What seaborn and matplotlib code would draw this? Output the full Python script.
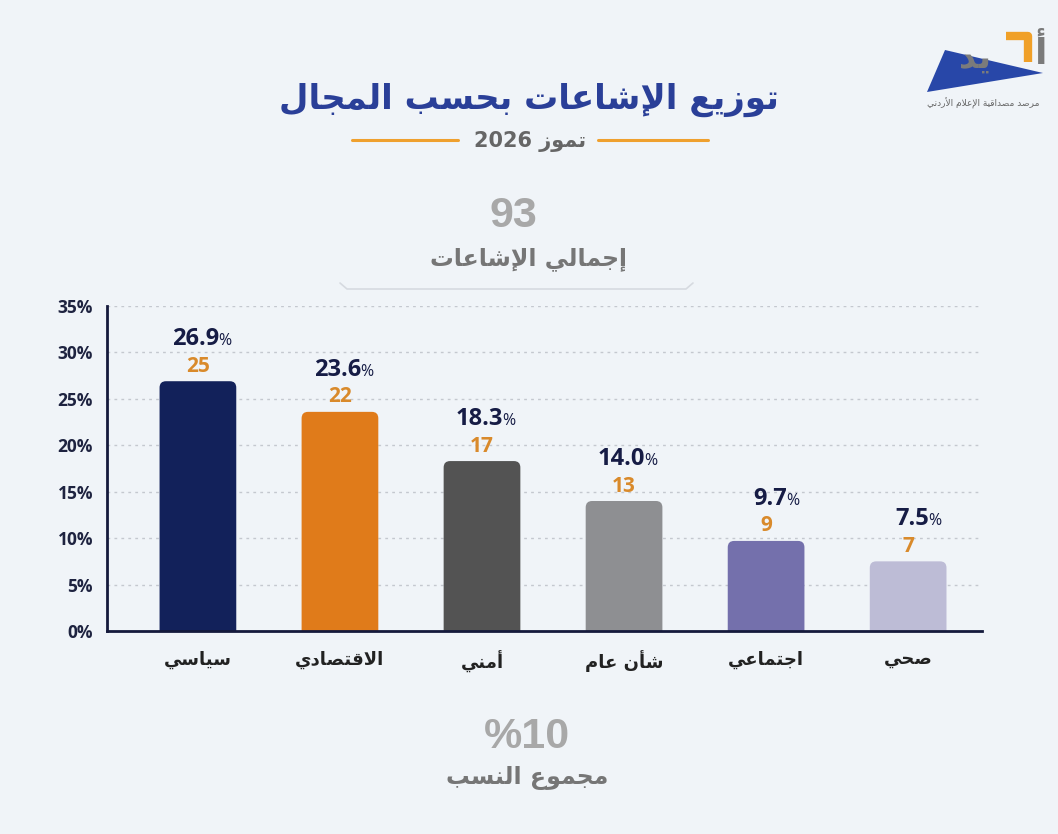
import re
import pandas as pd
import matplotlib
matplotlib.use('Agg')
import matplotlib.pyplot as plt
import seaborn as sns
from matplotlib.patches import FancyBboxPatch, Polygon
from matplotlib.lines import Line2D
from matplotlib.transforms import offset_copy

# data
categories = ['سياسي', 'الاقتصادي', 'أمني', 'شأن عام', 'اجتماعي', 'صحي']
counts = [25, 22, 17, 13, 9, 7]
percents = [26.9, 23.6, 18.3, 14.0, 9.7, 7.5]
bar_colors = ['#12215A', '#E07B1A', '#535353', '#8E8F92', '#7470AC', '#BDBCD6']
y_ticks = [0, 5, 10, 15, 20, 25, 30, 35]

title = 'توزيع الإشاعات بحسب المجال'
subtitle = 'تموز 2026'
total_value = '93'
total_label = 'إجمالي الإشاعات'
sum_value = '%10'
sum_label = 'مجموع النسب'
logo_caption = 'مرصد مصداقية الإعلام الأردني'

# --- minimal Arabic shaping (matplotlib has no shaping / bidi) ---
AR_FORMS = {
    '\u0621': (0xFE80, 1), '\u0622': (0xFE81, 2), '\u0623': (0xFE83, 2), '\u0624': (0xFE85, 2),
    '\u0625': (0xFE87, 2), '\u0626': (0xFE89, 4), '\u0627': (0xFE8D, 2), '\u0628': (0xFE8F, 4),
    '\u0629': (0xFE93, 2), '\u062A': (0xFE95, 4), '\u062B': (0xFE99, 4), '\u062C': (0xFE9D, 4),
    '\u062D': (0xFEA1, 4), '\u062E': (0xFEA5, 4), '\u062F': (0xFEA9, 2), '\u0630': (0xFEAB, 2),
    '\u0631': (0xFEAD, 2), '\u0632': (0xFEAF, 2), '\u0633': (0xFEB1, 4), '\u0634': (0xFEB5, 4),
    '\u0635': (0xFEB9, 4), '\u0636': (0xFEBD, 4), '\u0637': (0xFEC1, 4), '\u0638': (0xFEC5, 4),
    '\u0639': (0xFEC9, 4), '\u063A': (0xFECD, 4), '\u0641': (0xFED1, 4), '\u0642': (0xFED5, 4),
    '\u0643': (0xFED9, 4), '\u0644': (0xFEDD, 4), '\u0645': (0xFEE1, 4), '\u0646': (0xFEE5, 4),
    '\u0647': (0xFEE9, 4), '\u0648': (0xFEED, 2), '\u0649': (0xFEEF, 2), '\u064A': (0xFEF1, 4),
}
LAM_ALEF = {'\u0622': 0xFEF5, '\u0623': 0xFEF7, '\u0625': 0xFEF9, '\u0627': 0xFEFB}


def ar(s):
    toks = []
    i = 0
    while i < len(s):
        if s[i] == '\u0644' and i + 1 < len(s) and s[i + 1] in LAM_ALEF:
            toks.append(('lig', s[i + 1]))
            i += 2
        else:
            toks.append(('ch', s[i]))
            i += 1

    def nf(t):
        if t[0] == 'lig':
            return 2
        return AR_FORMS.get(t[1], (0, 0))[1]

    out = []
    for k, t in enumerate(toks):
        n = nf(t)
        if n == 0:
            out.append(t[1])
            continue
        jp = k > 0 and nf(toks[k - 1]) == 4
        jn = n == 4 and k + 1 < len(toks) and nf(toks[k + 1]) >= 2
        if t[0] == 'lig':
            out.append(chr(LAM_ALEF[t[1]] + (1 if jp else 0)))
            continue
        base = AR_FORMS[t[1]][0]
        if n == 1:
            idx = 0
        elif jp and jn:
            idx = 3
        elif jn:
            idx = 2
        elif jp:
            idx = 1
        else:
            idx = 0
        out.append(chr(base + idx))
    runs = re.findall(r'[0-9A-Za-z.%]+|.', ''.join(out))
    return ''.join(runs[::-1])


W, H = 1058, 834
BG = '#F0F4F8'
AR_FONT = ['DejaVu Sans']
NUM_FONT = ['Open Sans', 'DejaVu Sans']
BIG_FONT = ['Liberation Sans', 'DejaVu Sans']

sns.set_theme(style='white')
plt.rcParams['font.family'] = ['Open Sans', 'DejaVu Sans']

fig = plt.figure(figsize=(W / 100, H / 100), dpi=100)
fig.patch.set_facecolor(BG)


def fx(x, y):
    return x / W, 1 - y / H


# header
fig.text(*fx(529, 100), ar(title), ha='center', va='center', fontsize=24.5,
         fontweight='bold', color='#2A3F98', family=AR_FONT)
fig.text(*fx(530, 141), ar(subtitle), ha='center', va='center', fontsize=15,
         fontweight='bold', color='#666666', family=AR_FONT)
for x0, x1 in [(352, 458), (598, 708)]:
    fig.add_artist(Line2D([x0 / W, x1 / W], [1 - 140 / H] * 2, color='#EFA02E', lw=2.2))

fig.text(*fx(513, 216), total_value, ha='center', va='center', fontsize=31,
         fontweight='bold', color='#A8A8A8', family=BIG_FONT)
fig.text(*fx(529, 259), ar(total_label), ha='center', va='center', fontsize=17,
         fontweight='bold', color='#767676', family=AR_FONT)
card_x = [340, 347, 686, 693]
card_y = [283, 289, 289, 283]
fig.add_artist(Line2D([x / W for x in card_x], [1 - y / H for y in card_y],
                      color='#D6DAE0', lw=1.2))

# logo: blue wedge, gray letters, orange hook
fig.add_artist(Polygon([fx(927, 92), fx(945, 50), fx(1043, 73)], closed=True,
                       facecolor='#2847A8', edgecolor='none'))
fig.text(*fx(975, 58), ar('يد'), ha='center', va='center', fontsize=24,
         fontweight='bold', color='#7B7B7B', family=AR_FONT)
fig.text(*fx(1040, 53), ar('أ'), ha='center', va='center', fontsize=26,
         fontweight='bold', color='#7B7B7B', family=AR_FONT)
hook = [fx(1006, 36), fx(1028, 36), fx(1028, 62)]
fig.add_artist(Line2D([p[0] for p in hook], [p[1] for p in hook], color='#F0A028',
                      lw=6, solid_joinstyle='round', solid_capstyle='butt'))
fig.text(*fx(983, 103), ar(logo_caption), ha='center', va='center', fontsize=6.5,
         color='#666666', family=AR_FONT)

# footer
fig.text(*fx(527, 737), sum_value, ha='center', va='center', fontsize=31,
         fontweight='bold', color='#A8A8A8', family=BIG_FONT)
fig.text(*fx(527, 778), ar(sum_label), ha='center', va='center', fontsize=17,
         fontweight='bold', color='#767676', family=AR_FONT)

# bar chart
ax = fig.add_axes([107 / W, 1 - 631 / H, (982 - 107) / W, (631 - 306) / H])
ax.set_facecolor(BG)
df = pd.DataFrame({'cat': categories, 'pct': percents, 'n': counts})
sns.barplot(data=df, x='cat', y='pct', hue='cat', palette=bar_colors, legend=False,
            width=0.54, ax=ax, zorder=3)

ax.set_xlim(-0.64, 5.52)
ax.set_ylim(0, 35)

# swap plain bars for bars with rounded tops
aspect = 0.65 / 0.042
for patch, color in zip(list(ax.patches), bar_colors):
    x, y = patch.get_x(), patch.get_y()
    w, h = patch.get_width(), patch.get_height()
    patch.remove()
    rb = FancyBboxPatch((x, y - 2), w, h + 2, boxstyle='round,pad=0,rounding_size=0.045',
                        mutation_aspect=aspect, facecolor=color, edgecolor='none',
                        zorder=3, clip_on=True)
    ax.add_patch(rb)

for i, (p, n) in enumerate(zip(percents, counts)):
    ax.text(i, p, str(n), transform=offset_copy(ax.transData, fig=fig, x=0, y=15, units='dots'),
            ha='center', va='center', fontsize=15, fontweight='bold', color='#D98A2B',
            family=NUM_FONT)
    ax.text(i, p, f'{p:.1f}', transform=offset_copy(ax.transData, fig=fig, x=21, y=42, units='dots'),
            ha='right', va='center', fontsize=17, fontweight='bold', color='#161C45',
            family=NUM_FONT)
    ax.text(i, p, '%', transform=offset_copy(ax.transData, fig=fig, x=20, y=40, units='dots'),
            ha='left', va='center', fontsize=11.5, color='#161C45', family=NUM_FONT)

ax.set_yticks(y_ticks)
ax.set_yticklabels([f'{t}%' for t in y_ticks], fontsize=12.5, fontweight='bold',
                   color='#1E2340', family=NUM_FONT)
ax.set_xticks(range(len(categories)))
ax.set_xticklabels([ar(c) for c in categories], fontsize=13, fontweight='bold',
                   color='#222222', family=AR_FONT)
ax.tick_params(axis='both', length=0)
ax.tick_params(axis='y', pad=10)
ax.tick_params(axis='x', pad=14)
ax.set_xlabel('')
ax.set_ylabel('')

for t in y_ticks[1:]:
    ax.axhline(t, color='#C4C8CF', lw=1, ls=(0, (2, 3)), zorder=1)

for side in ['top', 'right']:
    ax.spines[side].set_visible(False)
for side in ['left', 'bottom']:
    ax.spines[side].set_color('#151A3C')
    ax.spines[side].set_linewidth(2)
    ax.spines[side].set_zorder(5)

fig.savefig('out.png', dpi=100, facecolor=BG)
